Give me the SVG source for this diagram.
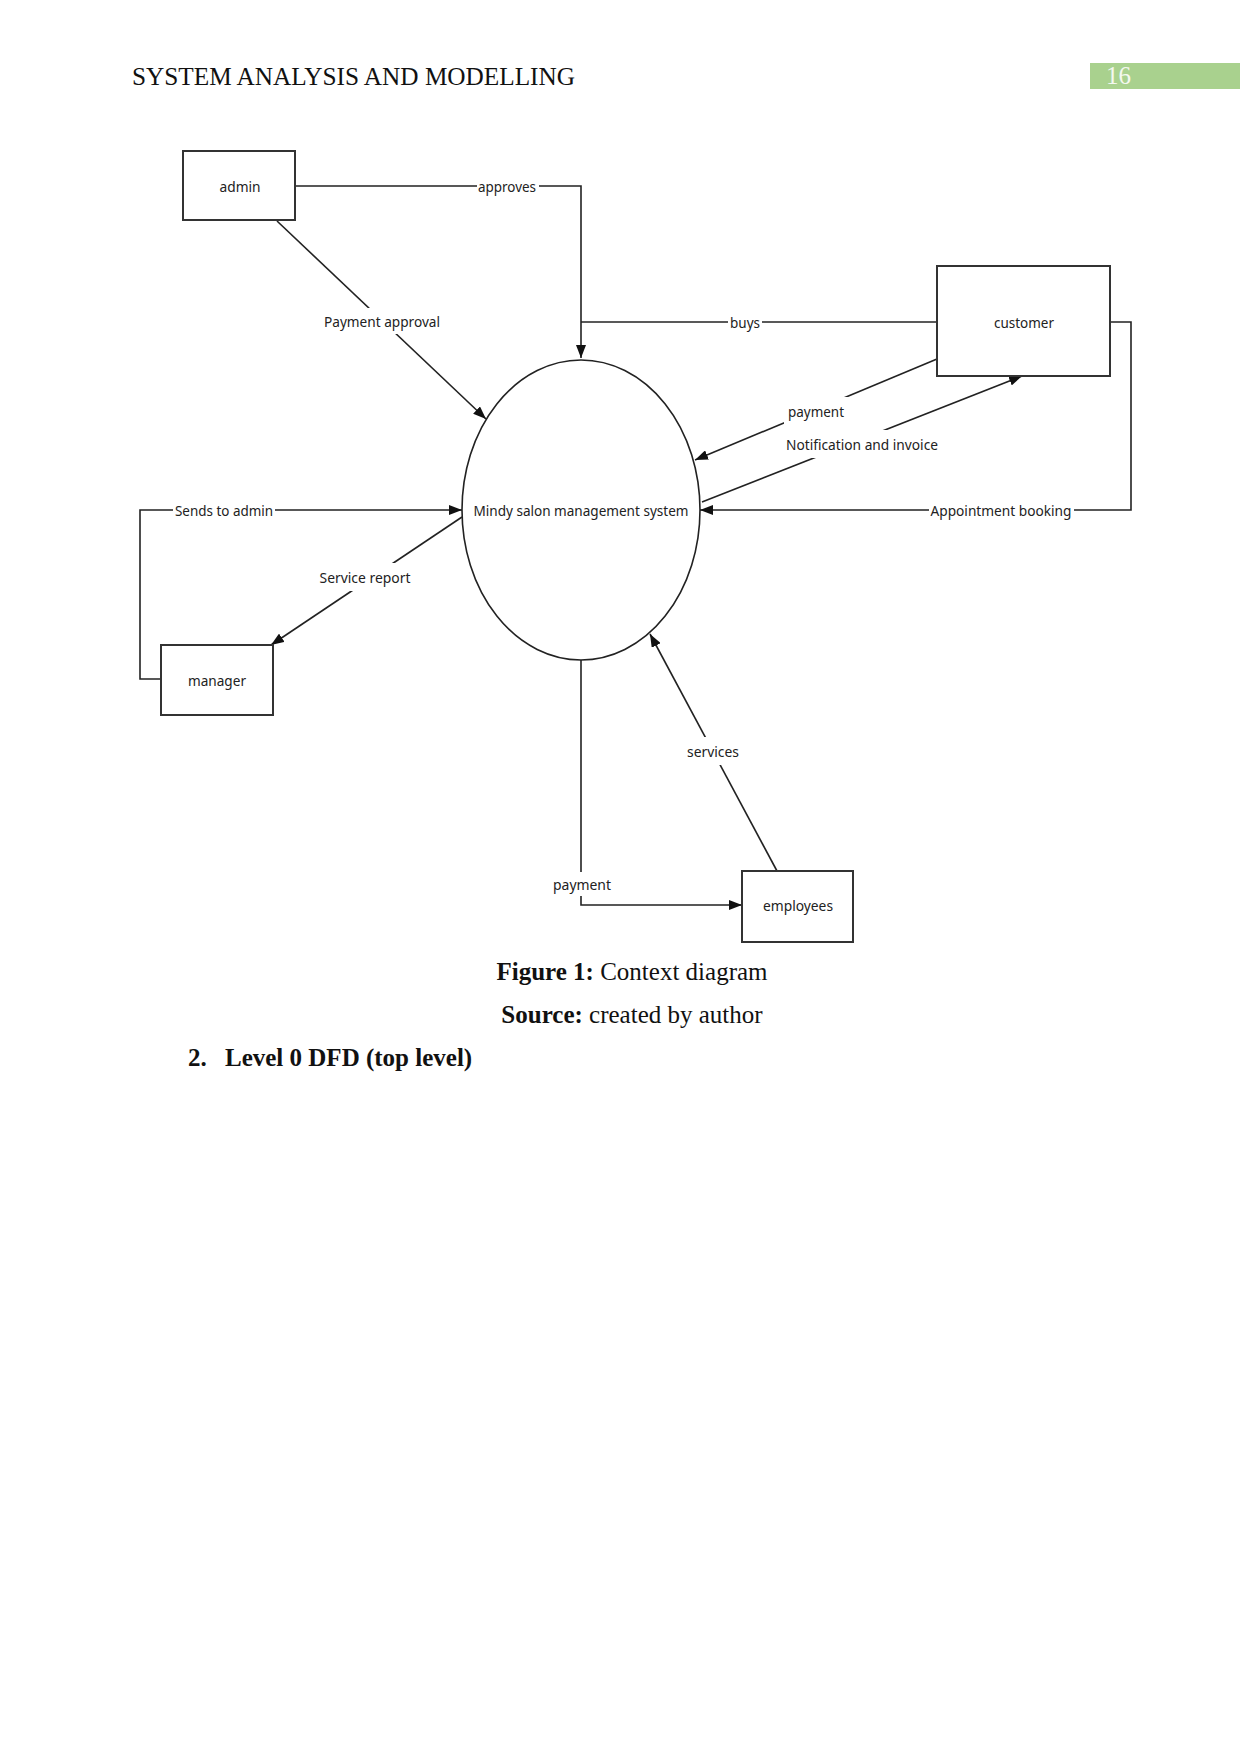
<svg xmlns="http://www.w3.org/2000/svg" width="1241" height="1754" viewBox="0 0 1241 1754">
<defs>
<marker id="arr" markerWidth="14" markerHeight="10" refX="13" refY="5" orient="auto" markerUnits="userSpaceOnUse">
<path d="M0,0 L13,5 L0,10 z" fill="#111"/>
</marker>
<style>
.page{font-family:"Liberation Serif","Times New Roman",serif;font-size:25px;fill:#111}
.b{font-weight:bold}
.box{fill:#fff;stroke:#333;stroke-width:2}
.lbl{font-family:"Noto Sans","Open Sans",sans-serif;font-size:15px;fill:#222;text-anchor:middle;dominant-baseline:central}
.conn{fill:none;stroke:#222;stroke-width:1.6}
.bg{fill:#fff}
</style>
</defs>
<rect x="0" y="0" width="1241" height="1754" fill="#fff"/>
<!-- header -->
<text class="page" x="132" y="85" textLength="443" lengthAdjust="spacingAndGlyphs">SYSTEM ANALYSIS AND MODELLING</text>
<rect x="1090" y="63" width="150" height="26" fill="#a9d18e"/>
<text class="page" x="1106" y="84" style="fill:#f4f8f0">16</text>

<!-- connectors -->
<g id="connectors">
<polyline class="conn" points="295,186 581,186 581,358" marker-end="url(#arr)"/>
<line class="conn" x1="937" y1="322" x2="581" y2="322"/>
<line class="conn" x1="277" y1="221" x2="486" y2="419" marker-end="url(#arr)"/>
<line class="conn" x1="937" y1="359" x2="695" y2="460" marker-end="url(#arr)"/>
<line class="conn" x1="702" y1="502" x2="1022" y2="376" marker-end="url(#arr)"/>
<polyline class="conn" points="1110,322 1131,322 1131,510 700,510" marker-end="url(#arr)"/>
<polyline class="conn" points="161,679 140,679 140,510 462,510" marker-end="url(#arr)"/>
<line class="conn" x1="462" y1="517" x2="271" y2="645" marker-end="url(#arr)"/>
<polyline class="conn" points="581,660 581,905 742,905" marker-end="url(#arr)"/>
<line class="conn" x1="777" y1="871" x2="650" y2="634" marker-end="url(#arr)"/>
<!-- label backgrounds and labels -->
<rect class="bg" x="477" y="177" width="62" height="18"/>
<text class="lbl" x="507" y="186" textLength="58" lengthAdjust="spacingAndGlyphs">approves</text>
<rect class="bg" x="320" y="308" width="124" height="26"/>
<text class="lbl" x="382" y="321" textLength="116" lengthAdjust="spacingAndGlyphs">Payment approval</text>
<rect class="bg" x="728" y="313" width="34" height="18"/>
<text class="lbl" x="745" y="322" textLength="30" lengthAdjust="spacingAndGlyphs">buys</text>
<rect class="bg" x="784" y="397" width="64" height="28"/>
<text class="lbl" x="816" y="411" textLength="56" lengthAdjust="spacingAndGlyphs">payment</text>
<rect class="bg" x="782" y="430" width="160" height="28"/>
<text class="lbl" x="862" y="444" textLength="152" lengthAdjust="spacingAndGlyphs">Notification and invoice</text>
<rect class="bg" x="929" y="501" width="145" height="18"/>
<text class="lbl" x="1001" y="510" textLength="141" lengthAdjust="spacingAndGlyphs">Appointment booking</text>
<rect class="bg" x="173" y="501" width="102" height="18"/>
<text class="lbl" x="224" y="510" textLength="98" lengthAdjust="spacingAndGlyphs">Sends to admin</text>
<rect class="bg" x="316" y="563" width="99" height="28"/>
<text class="lbl" x="365" y="577" textLength="91" lengthAdjust="spacingAndGlyphs">Service report</text>
<rect class="bg" x="683" y="737" width="60" height="28"/>
<text class="lbl" x="713" y="751" textLength="52" lengthAdjust="spacingAndGlyphs">services</text>
<rect class="bg" x="549" y="872" width="66" height="24"/>
<text class="lbl" x="582" y="884" textLength="58" lengthAdjust="spacingAndGlyphs">payment</text>
</g>

<!-- nodes -->
<g id="admin">
<rect class="box" x="183" y="151" width="112" height="69"/>
<text class="lbl" x="240" y="186" textLength="41" lengthAdjust="spacingAndGlyphs">admin</text>
</g>
<g id="customer">
<rect class="box" x="937" y="266" width="173" height="110"/>
<text class="lbl" x="1024" y="322" textLength="60" lengthAdjust="spacingAndGlyphs">customer</text>
</g>
<g id="system">
<ellipse cx="581" cy="510" rx="119" ry="150" fill="#fff" stroke="#222" stroke-width="1.6"/>
<text class="lbl" x="581" y="510" textLength="215" lengthAdjust="spacingAndGlyphs">Mindy salon management system</text>
</g>
<g id="manager">
<rect class="box" x="161" y="645" width="112" height="70"/>
<text class="lbl" x="217" y="680" textLength="58" lengthAdjust="spacingAndGlyphs">manager</text>
</g>
<g id="employees">
<rect class="box" x="742" y="871" width="111" height="71"/>
<text class="lbl" x="798" y="905" textLength="70" lengthAdjust="spacingAndGlyphs">employees</text>
</g>

<!-- caption -->
<text class="page" x="632" y="980" text-anchor="middle"><tspan class="b">Figure 1:</tspan> Context diagram</text>
<text class="page" x="632" y="1023" text-anchor="middle"><tspan class="b">Source:</tspan> created by author</text>
<text class="page b" x="188" y="1066">2.</text>
<text class="page b" x="225" y="1066">Level 0 DFD (top level)</text>
</svg>
